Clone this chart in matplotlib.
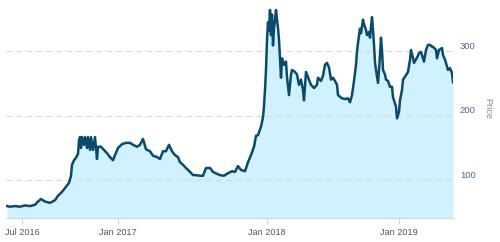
import matplotlib
matplotlib.use("Agg")
import matplotlib.pyplot as plt
import matplotlib.transforms as mtransforms

# x positions are trading-session indices (ordinal axis)
session = [7, 10, 15, 20, 25, 30, 35, 38, 41, 45, 50, 55, 58, 62, 66, 69, 71, 72, 74, 76,
           78, 79, 80, 81, 82, 84, 85, 87, 88, 90, 91, 93, 95, 97, 98, 101, 104, 107, 110, 113,
           115, 118, 122, 126, 130, 133, 137, 140, 143, 146, 150, 153, 157, 160, 163, 166, 169, 172, 175, 178,
           180, 183, 186, 190, 193, 196, 200, 203, 206, 210, 213, 217, 220, 224, 228, 232, 235, 238, 241, 245,
           248, 251, 254, 256, 258, 261, 263, 264, 265, 266, 267, 268, 269, 270, 271, 272, 273, 274, 275, 276,
           277, 278, 279, 280, 281, 282, 284, 286, 287, 289, 291, 292, 295, 297, 299, 301, 303, 304, 306, 309,
           311, 314, 317, 318, 321, 323, 325, 327, 329, 331, 333, 335, 337, 338, 342, 345, 348, 350, 352, 354,
           356, 357, 358, 360, 361, 363, 364, 366, 367, 369, 370, 372, 373, 374, 375, 376, 378, 379, 380, 381,
           382, 383, 385, 386, 388, 390, 392, 393, 396, 397, 399, 400, 402, 403, 406, 408, 410, 411, 413, 414,
           417, 419, 421, 422, 424, 426, 428, 430, 432, 433, 436, 437, 439, 442, 443, 445, 447, 448, 450, 452,
           453]
price = [60, 59, 60, 59, 61, 60, 62, 67, 71, 67, 65, 69, 76, 82, 90, 96, 107, 124, 131, 135,
         141, 162, 167, 150, 167, 155, 167, 150, 167, 147, 167, 147, 167, 133, 152, 152, 147, 142, 136, 131,
         139, 150, 156, 158, 158, 155, 152, 155, 164, 148, 145, 138, 136, 133, 145, 145, 155, 145, 139, 136,
         128, 124, 119, 113, 108, 108, 107, 107, 119, 119, 113, 110, 108, 107, 111, 114, 113, 122, 116, 114,
         128, 139, 152, 169, 170, 183, 198, 215, 240, 271, 317, 345, 332, 364, 325, 357, 309, 336, 349, 364,
         349, 336, 318, 287, 259, 289, 279, 284, 260, 232, 264, 271, 268, 264, 248, 256, 240, 224, 268, 256,
         248, 243, 248, 259, 254, 262, 279, 282, 275, 256, 259, 254, 248, 232, 227, 226, 227, 221, 232, 254,
         279, 300, 313, 335, 328, 349, 342, 333, 325, 330, 321, 353, 333, 310, 283, 271, 251, 271, 294, 321,
         302, 271, 264, 256, 254, 245, 245, 229, 214, 196, 206, 224, 240, 256, 263, 268, 287, 302, 290, 282,
         290, 297, 299, 294, 284, 302, 310, 310, 307, 307, 302, 289, 302, 305, 294, 287, 276, 271, 274, 266,
         252]

tick_pos = [22, 118, 267, 399]
tick_labels = ["Jul 2016", "Jan 2017", "Jan 2018", "Jan 2019"]
y_ticks = [100, 200, 300]

plt.rcParams['font.family'] = ['Liberation Sans', 'DejaVu Sans']

fig = plt.figure(figsize=(5.0, 2.42), dpi=100)
ax = fig.add_axes([6/500, 24/242, 447/500, 218/242])

ax.fill_between(session, price, 0, color='#cff2fe', lw=0, zorder=1)
ax.plot(session, price, color='#0c4a6c', lw=1.8, zorder=3, solid_joinstyle='round')

ax.set_xlim(6, 453)
ax.set_ylim(41.5, 379.5)

for s in ['top', 'left', 'right']:
    ax.spines[s].set_visible(False)
ax.spines['bottom'].set_color('#ccd6eb')
ax.spines['bottom'].set_linewidth(0.8)
ax.spines['bottom'].set_zorder(4)

ax.set_xticks(tick_pos)
ax.set_xticklabels(tick_labels)
ax.tick_params(axis='x', length=4, width=0.8, color='#ccd6eb', labelsize=6.6,
               labelcolor='#555555', pad=3)

ax.set_yticks(y_ticks)
ax.set_yticklabels([str(v) for v in y_ticks])
ax.yaxis.tick_right()
ax.tick_params(axis='y', length=0, labelsize=6.8, labelcolor='#4b6a8a', pad=5)
offset = mtransforms.ScaledTranslation(0, 0.06, fig.dpi_scale_trans)
for lab in ax.get_yticklabels():
    lab.set_transform(lab.get_transform() + offset)

ax.grid(axis='y', color='#d8d8d8', lw=0.8, linestyle=(0, (5, 4)), zorder=2)
ax.set_axisbelow(False)
for gl in ax.get_ygridlines():
    gl.set_zorder(2)

fig.text(488/500, 1 - 108/242, "Price", rotation=270, ha='center', va='center',
         fontsize=6.6, color='#888888')

fig.savefig("out.png", dpi=100)
